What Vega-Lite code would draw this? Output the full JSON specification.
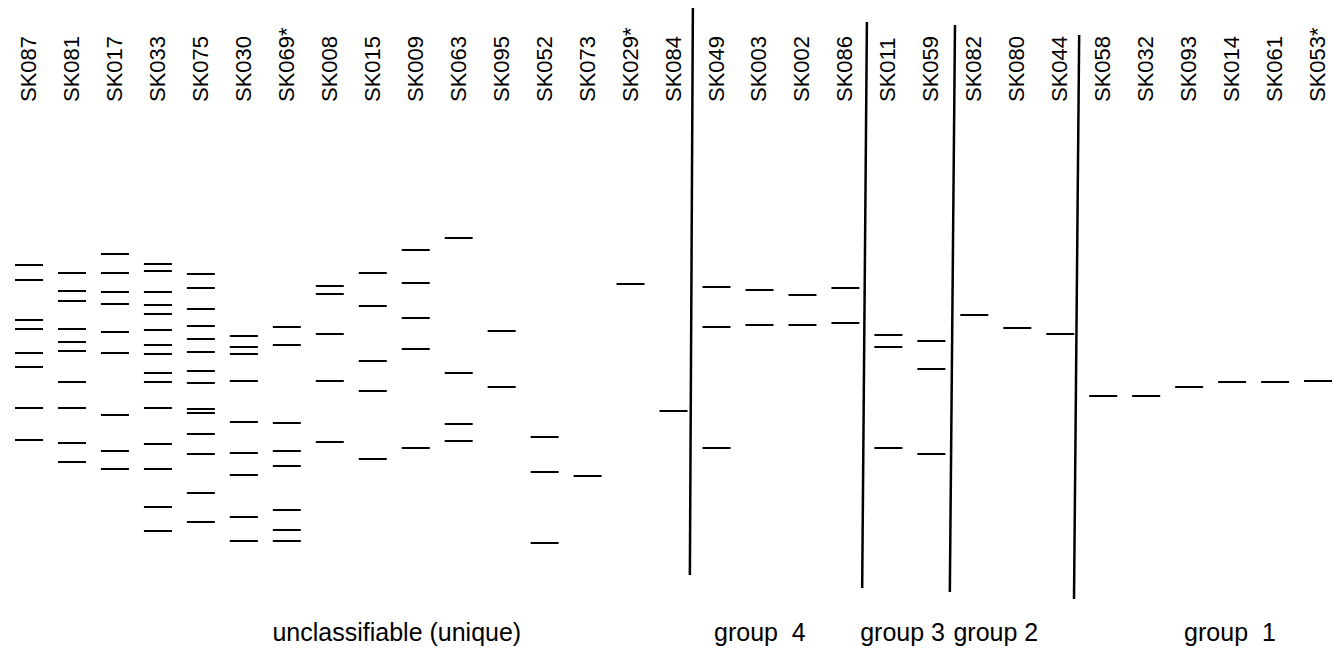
{
  "$schema": "https://vega.github.io/schema/vega-lite/v6.json",
  "width": 1343,
  "height": 648,
  "autosize": {"type": "none"},
  "padding": 0,
  "background": "white",
  "config": {"view": {"stroke": null}, "font": "Liberation Sans"},
  "datasets": {
    "lanes": [
      {"lane": 1, "strain": "SK087"}, {"lane": 2, "strain": "SK081"}, {"lane": 3, "strain": "SK017"},
      {"lane": 4, "strain": "SK033"}, {"lane": 5, "strain": "SK075"}, {"lane": 6, "strain": "SK030"},
      {"lane": 7, "strain": "SK069*"}, {"lane": 8, "strain": "SK008"}, {"lane": 9, "strain": "SK015"},
      {"lane": 10, "strain": "SK009"}, {"lane": 11, "strain": "SK063"}, {"lane": 12, "strain": "SK095"},
      {"lane": 13, "strain": "SK052"}, {"lane": 14, "strain": "SK073"}, {"lane": 15, "strain": "SK029*"},
      {"lane": 16, "strain": "SK084"}, {"lane": 17, "strain": "SK049"}, {"lane": 18, "strain": "SK003"},
      {"lane": 19, "strain": "SK002"}, {"lane": 20, "strain": "SK086"}, {"lane": 21, "strain": "SK011"},
      {"lane": 22, "strain": "SK059"}, {"lane": 23, "strain": "SK082"}, {"lane": 24, "strain": "SK080"},
      {"lane": 25, "strain": "SK044"}, {"lane": 26, "strain": "SK058"}, {"lane": 27, "strain": "SK032"},
      {"lane": 28, "strain": "SK093"}, {"lane": 29, "strain": "SK014"}, {"lane": 30, "strain": "SK061"},
      {"lane": 31, "strain": "SK053*"}
    ],
    "bands": [
      {"lane": 1, "distance": 265}, {"lane": 1, "distance": 280}, {"lane": 1, "distance": 320}, {"lane": 1, "distance": 329},
      {"lane": 1, "distance": 353}, {"lane": 1, "distance": 367}, {"lane": 1, "distance": 408}, {"lane": 1, "distance": 440},
      {"lane": 2, "distance": 273}, {"lane": 2, "distance": 291}, {"lane": 2, "distance": 301}, {"lane": 2, "distance": 329},
      {"lane": 2, "distance": 342}, {"lane": 2, "distance": 351}, {"lane": 2, "distance": 382}, {"lane": 2, "distance": 408},
      {"lane": 2, "distance": 443}, {"lane": 2, "distance": 462},
      {"lane": 3, "distance": 254}, {"lane": 3, "distance": 273}, {"lane": 3, "distance": 292}, {"lane": 3, "distance": 304},
      {"lane": 3, "distance": 332}, {"lane": 3, "distance": 353}, {"lane": 3, "distance": 415}, {"lane": 3, "distance": 451},
      {"lane": 3, "distance": 469},
      {"lane": 4, "distance": 264}, {"lane": 4, "distance": 271}, {"lane": 4, "distance": 292}, {"lane": 4, "distance": 305},
      {"lane": 4, "distance": 314}, {"lane": 4, "distance": 330}, {"lane": 4, "distance": 345}, {"lane": 4, "distance": 354},
      {"lane": 4, "distance": 373}, {"lane": 4, "distance": 382}, {"lane": 4, "distance": 408}, {"lane": 4, "distance": 444},
      {"lane": 4, "distance": 469}, {"lane": 4, "distance": 507}, {"lane": 4, "distance": 531},
      {"lane": 5, "distance": 274}, {"lane": 5, "distance": 288}, {"lane": 5, "distance": 309}, {"lane": 5, "distance": 326},
      {"lane": 5, "distance": 339}, {"lane": 5, "distance": 352}, {"lane": 5, "distance": 371}, {"lane": 5, "distance": 383},
      {"lane": 5, "distance": 409}, {"lane": 5, "distance": 413}, {"lane": 5, "distance": 434}, {"lane": 5, "distance": 454},
      {"lane": 5, "distance": 493}, {"lane": 5, "distance": 522},
      {"lane": 6, "distance": 336}, {"lane": 6, "distance": 347}, {"lane": 6, "distance": 354}, {"lane": 6, "distance": 381},
      {"lane": 6, "distance": 422}, {"lane": 6, "distance": 453}, {"lane": 6, "distance": 475}, {"lane": 6, "distance": 517},
      {"lane": 6, "distance": 541},
      {"lane": 7, "distance": 327}, {"lane": 7, "distance": 345}, {"lane": 7, "distance": 423}, {"lane": 7, "distance": 451},
      {"lane": 7, "distance": 466}, {"lane": 7, "distance": 510}, {"lane": 7, "distance": 530}, {"lane": 7, "distance": 541},
      {"lane": 8, "distance": 286}, {"lane": 8, "distance": 294}, {"lane": 8, "distance": 334}, {"lane": 8, "distance": 381},
      {"lane": 8, "distance": 442},
      {"lane": 9, "distance": 273}, {"lane": 9, "distance": 306}, {"lane": 9, "distance": 361}, {"lane": 9, "distance": 391},
      {"lane": 9, "distance": 459},
      {"lane": 10, "distance": 250}, {"lane": 10, "distance": 283}, {"lane": 10, "distance": 318}, {"lane": 10, "distance": 349},
      {"lane": 10, "distance": 448},
      {"lane": 11, "distance": 238}, {"lane": 11, "distance": 373}, {"lane": 11, "distance": 424}, {"lane": 11, "distance": 441},
      {"lane": 12, "distance": 331}, {"lane": 12, "distance": 387},
      {"lane": 13, "distance": 437}, {"lane": 13, "distance": 472}, {"lane": 13, "distance": 543},
      {"lane": 14, "distance": 476},
      {"lane": 15, "distance": 284},
      {"lane": 16, "distance": 411},
      {"lane": 17, "distance": 287}, {"lane": 17, "distance": 327}, {"lane": 17, "distance": 448},
      {"lane": 18, "distance": 290}, {"lane": 18, "distance": 325},
      {"lane": 19, "distance": 295}, {"lane": 19, "distance": 325},
      {"lane": 20, "distance": 288}, {"lane": 20, "distance": 323},
      {"lane": 21, "distance": 335}, {"lane": 21, "distance": 347}, {"lane": 21, "distance": 448},
      {"lane": 22, "distance": 341}, {"lane": 22, "distance": 369}, {"lane": 22, "distance": 454},
      {"lane": 23, "distance": 315},
      {"lane": 24, "distance": 328},
      {"lane": 25, "distance": 334},
      {"lane": 26, "distance": 396},
      {"lane": 27, "distance": 396},
      {"lane": 28, "distance": 387},
      {"lane": 29, "distance": 382},
      {"lane": 30, "distance": 382},
      {"lane": 31, "distance": 381}
    ],
    "dividers": [
      {"top_lane": 16.45, "bottom_lane": 16.38, "top": 8, "bottom": 575},
      {"top_lane": 20.5, "bottom_lane": 20.39, "top": 22, "bottom": 588},
      {"top_lane": 22.55, "bottom_lane": 22.43, "top": 25, "bottom": 592},
      {"top_lane": 25.44, "bottom_lane": 25.32, "top": 35, "bottom": 599}
    ],
    "groups": [
      {"label": "unclassifiable (unique)", "center": 9.56},
      {"label": "group\u00a0 4", "center": 18.01},
      {"label": "group 3", "center": 21.33},
      {"label": "group 2", "center": 23.5},
      {"label": "group\u00a0 1", "center": 28.95}
    ]
  },
  "layer": [
    {
      "data": {"name": "bands"},
      "mark": {"type": "tick", "orient": "horizontal", "size": 28, "thickness": 2, "color": "black", "opacity": 1},
      "encoding": {
        "x": {"field": "lane", "type": "quantitative", "scale": {"domain": [0.325, 31.58], "nice": false, "zero": false}, "axis": null},
        "y": {"field": "distance", "type": "quantitative", "scale": {"domain": [0, 648], "reverse": true, "nice": false, "zero": false}, "axis": null}
      }
    },
    {
      "data": {"name": "dividers"},
      "mark": {"type": "rule", "color": "black", "strokeWidth": 2.5},
      "encoding": {
        "x": {"field": "top_lane", "type": "quantitative"},
        "x2": {"field": "bottom_lane"},
        "y": {"field": "top", "type": "quantitative"},
        "y2": {"field": "bottom"}
      }
    },
    {
      "data": {"name": "lanes"},
      "mark": {"type": "text", "angle": 270, "align": "left", "baseline": "middle", "fontSize": 22, "color": "black", "font": "Liberation Sans"},
      "encoding": {
        "x": {"field": "lane", "type": "quantitative"},
        "y": {"datum": 102, "type": "quantitative"},
        "text": {"field": "strain"}
      }
    },
    {
      "data": {"name": "groups"},
      "mark": {"type": "text", "align": "center", "baseline": "middle", "fontSize": 25, "color": "black", "font": "Liberation Sans"},
      "encoding": {
        "x": {"field": "center", "type": "quantitative"},
        "y": {"datum": 633, "type": "quantitative"},
        "text": {"field": "label"}
      }
    }
  ]
}
